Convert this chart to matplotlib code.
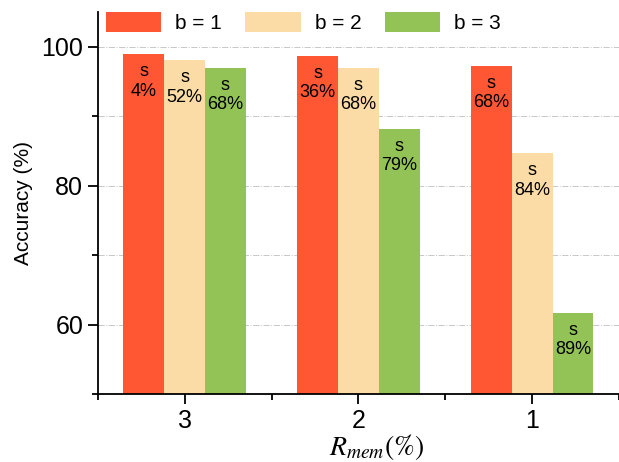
import matplotlib
matplotlib.use("Agg")
import matplotlib.pyplot as plt
import numpy as np
from matplotlib.ticker import MultipleLocator

plt.rcParams["font.family"] = ["Liberation Sans", "DejaVu Sans"]
plt.rcParams["mathtext.fontset"] = "stix"

# data
categories = ["3", "2", "1"]
series_names = ["b = 1", "b = 2", "b = 3"]
acc_b1 = [98.9, 98.7, 97.3]
acc_b2 = [98.1, 97.0, 84.7]
acc_b3 = [97.0, 88.2, 61.7]
sparsity_b1 = ["4%", "36%", "68%"]
sparsity_b2 = ["52%", "68%", "84%"]
sparsity_b3 = ["68%", "79%", "89%"]

colors = ["#FF5733", "#FCDCA6", "#93C357"]

fig = plt.figure(figsize=(6.19, 4.62), dpi=100)
ax = fig.add_axes([0.158, 0.147, 0.842, 0.827])

x = np.arange(len(categories))
width = 0.235
series = [acc_b1, acc_b2, acc_b3]
labels = [sparsity_b1, sparsity_b2, sparsity_b3]
for k, (vals, labs) in enumerate(zip(series, labels)):
    pos = x + (k - 1) * width
    ax.bar(pos, vals, width=width, color=colors[k], label=series_names[k],
           zorder=2, linewidth=0)
    for p, v, lab in zip(pos, vals, labs):
        ax.text(p, v - 1.3, "s\n" + lab, ha="center", va="top",
                fontsize=13, linespacing=1.2, zorder=3)

ax.set_xlim(-0.5, 2.5)
ax.set_ylim(50, 105)
ax.set_xticks(x)
ax.set_xticklabels(categories)
ax.xaxis.set_minor_locator(MultipleLocator(1.0, offset=0.5))
ax.yaxis.set_minor_locator(MultipleLocator(10))
ax.set_yticks([60, 80, 100])
ax.tick_params(axis="both", which="major", labelsize=18, length=7, width=1.3)
ax.tick_params(axis="both", which="minor", length=4, width=1.3)
ax.grid(True, which="both", axis="y", color="#c8c8c8", linestyle="-.",
        linewidth=0.7, zorder=0)
ax.spines["top"].set_visible(False)
ax.spines["right"].set_visible(False)
ax.spines["left"].set_linewidth(1.3)
ax.spines["bottom"].set_linewidth(1.3)

ax.set_ylabel("Accuracy (%)", fontsize=15)
ax.yaxis.set_label_coords(-0.125, 0.5)
ax.set_xlabel(r"$R_{mem}(\%)$", fontsize=20)
ax.xaxis.set_label_coords(0.534, -0.1)

fig.legend(loc="upper center", bbox_to_anchor=(0.49, 1.015), ncol=3,
           frameon=False, fontsize=15, handlelength=2.65, handleheight=1.1,
           columnspacing=1.15, handletextpad=0.67)

fig.savefig("out.png", dpi=100)
